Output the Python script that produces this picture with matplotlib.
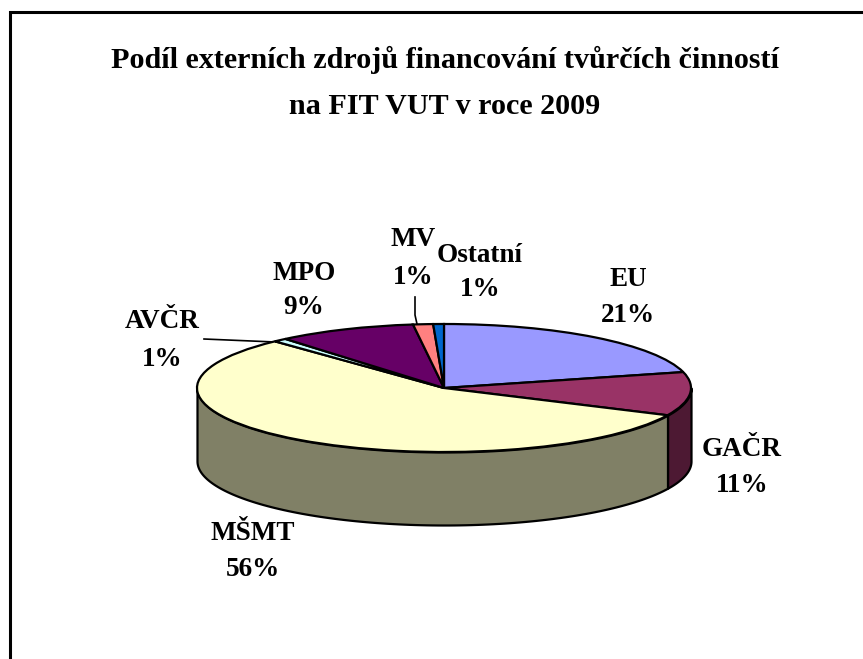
import numpy as np
from matplotlib import pyplot as plt

names = ['EU', 'GAČR', 'MŠMT', 'AVČR', 'MPO', 'MV', 'Ostatní']
shares = [21, 11, 56, 0.9, 9.1, 1.3, 0.7]
shown = ['21%', '11%', '56%', '1%', '9%', '1%', '1%']
title_lines = ['Podíl externích zdrojů financování tvůrčích činností', 'na FIT VUT v roce 2009']

colors = ['#9999FF', '#993366', '#FFFFCC', '#CCFFFF', '#660066', '#FF8080', '#0066CC']
sides = ['#4D4D80', '#4D1933', '#808066', '#668080', '#330033', '#804040', '#003366']

W, H = 863, 659
fig = plt.figure(figsize=(W / 100, H / 100), dpi=100)
plt.rcParams['font.family'] = ['Liberation Serif', 'DejaVu Serif']

# overlay in pixel coords for frame, texts and leader lines
bg = fig.add_axes([0, 0, 1, 1])
bg.set_xlim(0, W)
bg.set_ylim(H, 0)
bg.axis('off')
bg.plot([10, 10, W], [H, 12, 12], color='black', lw=2.2, solid_joinstyle='miter')

# pie axes span exactly the top ellipse
cx, cy, rx, ry, depth = 444, 388, 247, 64, 73
ax = fig.add_axes([(cx - rx) / W, 1 - (cy + ry) / H, 2 * rx / W, 2 * ry / H])
ax.patch.set_alpha(0)

wedges, _ = ax.pie(shares, colors=colors, startangle=90, counterclock=False, radius=1,
                   wedgeprops={'edgecolor': 'black', 'linewidth': 1.6, 'clip_on': False, 'zorder': 3})
ax.set_aspect('auto')
ax.set_xlim(-1, 1)
ax.set_ylim(-1, 1)
ax.axis('off')

# side wall, only the front half of the ellipse shows
d = depth / ry
stops = 90 - np.cumsum([0] + shares) / sum(shares) * 360
for i in range(len(shares)):
    a0, a1 = stops[i], stops[i + 1]
    lo, hi = max(a1, -180), min(a0, 0)
    if lo >= hi:
        continue
    t = np.radians(np.linspace(lo, hi, 120))
    ax.fill_between(np.cos(t), np.sin(t), np.sin(t) - d, facecolor=sides[i], edgecolor='black',
                    linewidth=1.6, clip_on=False, zorder=1)

fs = 19.5
bg.text(445, 60, title_lines[0], fontsize=21.7, fontweight='bold', ha='center', va='center')
bg.text(445, 107, title_lines[1], fontsize=21.7, fontweight='bold', ha='center', va='center')

label_pos = [(628, 280, 315), (742, 450, 485), (253, 534, 570), (162, 322, 359),
             (304, 273, 308), (413, 239, 278), (480, 255, 290)]
for name, pct, (x, y1, y2) in zip(names, shown, label_pos):
    bg.text(x, y1, name, fontsize=fs, fontweight='bold', ha='center', va='center')
    bg.text(x, y2, pct, fontsize=fs, fontweight='bold', ha='center', va='center')

# leader lines
bg.plot([204, 275], [339, 342], color='black', lw=1.2)
bg.plot([415, 415, 417], [297, 315, 324], color='black', lw=1.2)

fig.savefig('out.png', dpi=100)
